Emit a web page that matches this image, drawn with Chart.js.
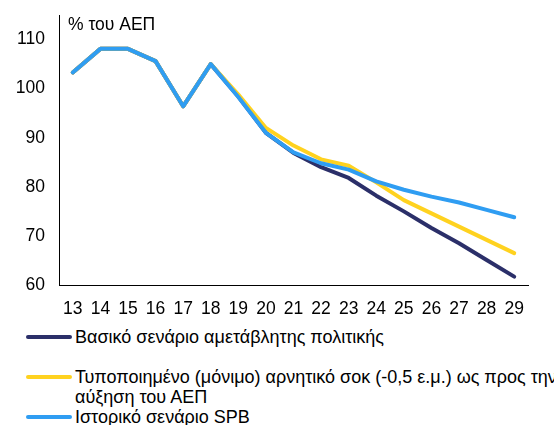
<!DOCTYPE html>
<html>
<head>
<meta charset="utf-8">
<script src="https://cdn.jsdelivr.net/npm/chart.js@4"></script>
<style>
  html, body { margin: 0; padding: 0; background: #fff; }
  #wrap { position: relative; width: 554px; height: 425px; overflow: hidden; font-family: "Liberation Sans", Arial, sans-serif; }
  #box { position: absolute; left: 0; top: 0; width: 554px; height: 318px; }
  .item { position: absolute; left: 0; font-size: 18px; line-height: 20px; color: #000; white-space: nowrap; }
  .item .swatch { position: absolute; left: 26px; top: 8px; width: 46px; height: 4px; border-radius: 2px; }
  .item .txt { position: absolute; left: 75px; top: 0; }
</style>
</head>
<body>
<div id="wrap">
  <div id="box"><canvas id="chart"></canvas></div>
  <div id="legend"></div>
</div>
<script>
(function () {
  "use strict";

  const YEARS = ["13", "14", "15", "16", "17", "18", "19", "20", "21", "22", "23", "24", "25", "26", "27", "28", "29"];

  // debt ratio, % of GDP
  const baseline = [103.3, 108.1, 108.1, 105.6, 96.4, 105.0, 98.4, 91.0, 86.9, 84.0, 81.8, 78.2, 75.0, 71.6, 68.5, 65.1, 61.7];
  const growthShock = [103.3, 108.1, 108.1, 105.6, 96.4, 105.0, 98.8, 92.0, 88.4, 85.6, 84.3, 80.9, 77.3, 74.6, 71.9, 69.2, 66.5];
  const historicalSpb = [103.3, 108.1, 108.1, 105.6, 96.4, 105.0, 98.3, 91.0, 87.0, 84.8, 83.5, 81.1, 79.4, 78.0, 76.8, 75.3, 73.8];

  const SERIES_NAMES = [
    "Βασικό σενάριο αμετάβλητης πολιτικής",
    "Τυποποιημένο (μόνιμο) αρνητικό σοκ (-0,5 ε.μ.) ως προς την<br>αύξηση του ΑΕΠ",
    "Ιστορικό σενάριο SPB",
  ];

  const COLORS = {
    navy: "#2b2f69",
    yellow: "#ffd21f",
    blue: "#2f9df2",
  };

  const Y_TITLE = "% του ΑΕΠ";
  const FONT = "'Liberation Sans', Arial, sans-serif";

  const yTitle = {
    id: "yTitle",
    afterDraw(chart) {
      const ctx = chart.ctx;
      ctx.save();
      ctx.font = "17.5px " + FONT;
      ctx.fillStyle = "#000";
      ctx.textBaseline = "middle";
      ctx.fillText(Y_TITLE, chart.chartArea.left + 9, chart.chartArea.top + 10);
      ctx.restore();
    },
  };

  function line(label, data, color, order) {
    return {
      label: label,
      data: data,
      borderColor: color,
      backgroundColor: color,
      borderWidth: 4,
      pointRadius: 0,
      tension: 0,
      borderCapStyle: "round",
      borderJoinStyle: "round",
      order: order,
    };
  }

  new Chart(document.getElementById("chart"), {
    type: "line",
    data: {
      labels: YEARS,
      datasets: [
        line(SERIES_NAMES[0], baseline, COLORS.navy, 2),
        line(SERIES_NAMES[1], growthShock, COLORS.yellow, 1),
        line(SERIES_NAMES[2], historicalSpb, COLORS.blue, 0),
      ],
    },
    options: {
      responsive: true,
      maintainAspectRatio: false,
      animation: false,
      layout: { padding: { top: 15, right: 26, bottom: 0, left: 0 } },
      plugins: { legend: { display: false }, tooltip: { enabled: false } },
      scales: {
        x: {
          offset: true,
          grid: { display: false, drawTicks: false },
          border: { color: "#000", width: 1 },
          ticks: { color: "#000", font: { family: FONT, size: 17.5 }, padding: 14, autoSkip: false, maxRotation: 0 },
          afterFit(scale) { scale.height = 33; scale.paddingLeft = 0; scale.paddingRight = 0; },
        },
        y: {
          min: 60,
          max: 115,
          grid: { display: false, drawTicks: false },
          border: { color: "#000", width: 1 },
          ticks: { stepSize: 10, includeBounds: false, color: "#000", font: { family: FONT, size: 17.5 }, padding: 14 },
          afterFit(scale) { scale.width = 59; scale.paddingTop = 0; scale.paddingBottom = 0; },
        },
      },
    },
    plugins: [yTitle],
  });

  // legend below the chart
  const legendTops = [327, 367, 407];
  const legendColors = [COLORS.navy, COLORS.yellow, COLORS.blue];
  const legend = document.getElementById("legend");
  SERIES_NAMES.forEach((name, i) => {
    const item = document.createElement("div");
    item.className = "item";
    item.style.top = legendTops[i] + "px";
    item.innerHTML = '<span class="swatch" style="background:' + legendColors[i] + '"></span><span class="txt">' + name + "</span>";
    legend.appendChild(item);
  });
})();
</script>
</body>
</html>
